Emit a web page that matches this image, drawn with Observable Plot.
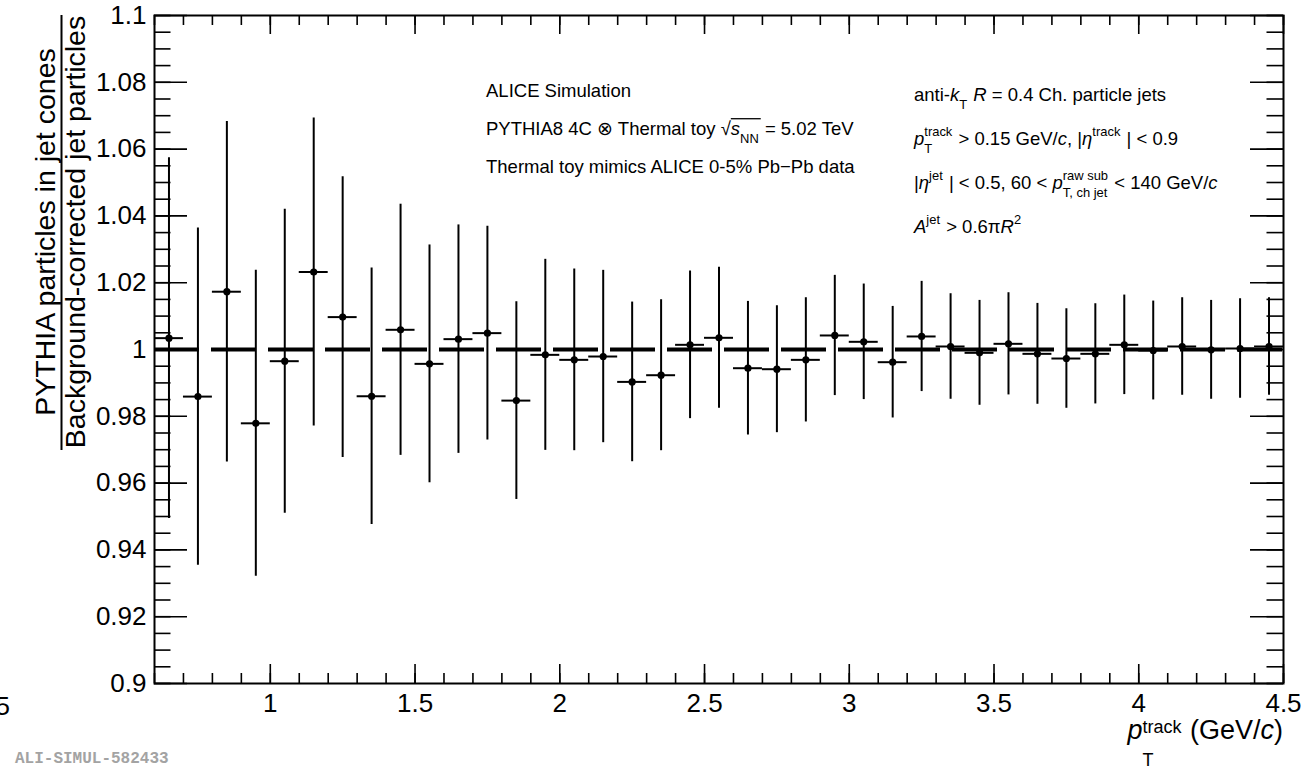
<!DOCTYPE html>
<html><head><meta charset="utf-8">
<script src="https://cdn.jsdelivr.net/npm/d3@7"></script>
<script src="https://cdn.jsdelivr.net/npm/@observablehq/plot@0.6"></script>
<style>body{margin:0;background:#fff;} svg text{white-space:pre;}</style>
</head><body>
<script>
// ---- data ----
const ptCenters = [0.65,0.75,0.85,0.95,1.05,1.15,1.25,1.35,1.45,1.55,1.65,1.75,1.85,1.95,2.05,2.15,2.25,2.35,2.45,2.55,2.65,2.75,2.85,2.95,3.05,3.15,3.25,3.35,3.45,3.55,3.65,3.75,3.85,3.95,4.05,4.15,4.25,4.35,4.45];
const ratio = [1.0034,0.9859,1.0173,0.9779,0.9965,1.0232,1.0097,0.9860,1.0059,0.9957,1.0031,1.0049,0.9847,0.9984,0.9969,0.9979,0.9903,0.9923,1.0014,1.0035,0.9944,0.9941,0.9969,1.0042,1.0023,0.9962,1.0039,1.0009,0.9990,1.0017,0.9987,0.9973,0.9987,1.0014,0.9997,1.0009,0.9999,1.0003,1.0009];
const ratioErr = [0.054,0.0505,0.051,0.0458,0.0455,0.0461,0.042,0.0384,0.0376,0.0356,0.0342,0.032,0.0296,0.0286,0.0272,0.0258,0.0239,0.0226,0.0221,0.0211,0.020,0.019,0.0186,0.018,0.0173,0.0167,0.0165,0.0158,0.0157,0.0153,0.0151,0.0149,0.015,0.0149,0.0148,0.0146,0.0148,0.0149,0.0146];
const binHalfWidth = 0.05;
const xTickLabels = [1,1.5,2,2.5,3,3.5,4,4.5];
const yTickLabels = [0.9,0.92,0.94,0.96,0.98,1,1.02,1.04,1.06,1.08,1.1];
const xMinorTicks = d3.range(6, 46).map(k => k / 10);
const yMinorTicks = d3.range(180, 221).map(k => k / 200);
const referenceLevel = [1];

const data = ptCenters.map((x, i) => ({x, r: ratio[i], e: ratioErr[i]}));

const W = 1304, H = 769, ML = 154, MR = 21, MT = 15, MB = 86;
const IW = W - ML - MR, IH = H - MT - MB;
const FONT = "'Liberation Sans', Arial, Helvetica, sans-serif";

const plotEl = Plot.plot({
  width: W, height: H,
  marginLeft: ML, marginRight: MR, marginTop: MT, marginBottom: MB,
  x: {domain: [0.6, 4.5], label: null},
  y: {domain: [0.9, 1.1], label: null},
  style: {fontFamily: FONT, background: "white", color: "black", overflow: "visible"},
  marks: [
    Plot.ruleY(referenceLevel, {y: d => d, stroke: "black", strokeWidth: 4, strokeDasharray: "45,12"}),
    Plot.ruleX(data, {x: "x", y1: d => d.r - d.e, y2: d => d.r + d.e, stroke: "black", strokeWidth: 2}),
    Plot.ruleY(data, {y: "r", x1: d => d.x - binHalfWidth, x2: d => d.x + binHalfWidth, stroke: "black", strokeWidth: 2}),
    Plot.dot(data, {x: "x", y: "r", r: 3.6, fill: "black", stroke: null}),
    // ticks (inward)
    Plot.tickX(xMinorTicks, {x: d => d, insetTop: IH - 10, stroke: "black", strokeWidth: 1.6}),
    Plot.tickX(xMinorTicks, {x: d => d, insetBottom: IH - 10, stroke: "black", strokeWidth: 1.6}),
    Plot.tickX(xTickLabels, {x: d => d, insetTop: IH - 19, stroke: "black", strokeWidth: 1.6}),
    Plot.tickX(xTickLabels, {x: d => d, insetBottom: IH - 19, stroke: "black", strokeWidth: 1.6}),
    Plot.tickY(yMinorTicks, {y: d => d, insetRight: IW - 16.5, stroke: "black", strokeWidth: 1.6}),
    Plot.tickY(yMinorTicks, {y: d => d, insetLeft: IW - 16.5, stroke: "black", strokeWidth: 1.6}),
    Plot.tickY(yTickLabels, {y: d => d, insetRight: IW - 33, stroke: "black", strokeWidth: 1.6}),
    Plot.tickY(yTickLabels, {y: d => d, insetLeft: IW - 33, stroke: "black", strokeWidth: 1.6}),
    Plot.axisX({ticks: xTickLabels, tickSize: 0, tickPadding: 10, fontSize: 26, tickFormat: d => String(d), label: null}),
    Plot.axisY({ticks: yTickLabels, tickSize: 0, tickPadding: 8, fontSize: 26, tickFormat: d => String(d), label: null}),
    Plot.frame({stroke: "black", strokeWidth: 2})
  ]
});
document.body.append(plotEl);

const svg = d3.select(plotEl);

function rich(x, y, segs, size, opts = {}) {
  const g = svg.append("g").attr("font-family", FONT).attr("fill", "black").attr("text-anchor", "start");
  const small = opts.small ?? size * 0.7;
  const supDy = opts.supDy ?? -size * 0.48;
  const subDy = opts.subDy ?? size * 0.42;
  let cx = 0, ovStart = 0;
  function put(t, px, py, fs, it) {
    const el = g.append("text").attr("x", px).attr("y", py).attr("font-size", fs)
      .attr("text-anchor", "start").style("white-space", "pre").text(t);
    if (it) el.attr("font-style", "italic");
    return el.node().getComputedTextLength();
  }
  for (const s of segs) {
    if (s.mark === "ovStart") { ovStart = cx; continue; }
    if (s.mark === "ovEnd") {
      g.append("line").attr("x1", ovStart).attr("x2", cx + 1)
        .attr("y1", -size * 0.88).attr("y2", -size * 0.88)
        .attr("stroke", "black").attr("stroke-width", 1.3);
      continue;
    }
    if (s.sup != null || s.sub != null) {
      let w = 0;
      if (s.sup != null) w = Math.max(w, put(s.sup, cx, supDy, small, false));
      if (s.sub != null) w = Math.max(w, put(s.sub, cx, subDy, small, false));
      cx += w + 1;
    } else {
      cx += put(s.t, cx, 0, s.size ?? size, s.it);
    }
  }
  g.attr("transform", `translate(${opts.anchor === "end" ? x - cx : x},${y})`);
  return cx;
}

// Left annotation block
const AS = 18.5;
rich(486, 97, [{t: "ALICE Simulation"}], AS);
rich(486, 135, [{t: "PYTHIA8 4C \u2297 Thermal toy "}, {t: "\u221A"}, {mark: "ovStart"}, {t: "s", it: true}, {sub: "NN"}, {mark: "ovEnd"}, {t: " = 5.02 TeV"}], AS);
rich(486, 173, [{t: "Thermal toy mimics ALICE 0-5% Pb\u2212Pb data"}], AS);

// Right annotation block
rich(914, 101, [{t: "anti-"}, {t: "k", it: true}, {sub: "T"}, {t: " "}, {t: "R", it: true}, {t: " = 0.4 Ch. particle jets"}], AS);
rich(914, 145, [{t: "p", it: true}, {sub: "T", sup: "track"}, {t: " > 0.15 GeV/"}, {t: "c", it: true}, {t: ", |"}, {t: "\u03B7", it: true}, {sup: "track"}, {t: " | < 0.9"}], AS);
rich(914, 189, [{t: "|"}, {t: "\u03B7", it: true}, {sup: "jet"}, {t: " | < 0.5, 60 < "}, {t: "p", it: true}, {sub: "T, ch jet", sup: "raw sub"}, {t: " < 140 GeV/"}, {t: "c", it: true}], AS);
rich(914, 233, [{t: "A", it: true}, {sup: "jet"}, {t: " > 0.6\u03C0"}, {t: "R", it: true}, {sup: "2"}], AS);

// X axis title
rich(1283, 739, [{t: "p", it: true}, {sub: "T", sup: "track"}, {t: " (GeV/"}, {t: "c", it: true}, {t: ")"}], 27, {anchor: "end", small: 18, supDy: -6, subDy: 27});

// Y axis title (fraction)
svg.append("text").attr("transform", "translate(55,232) rotate(-90)")
  .attr("text-anchor", "middle").attr("font-family", FONT).attr("font-size", 28.5).attr("fill", "black")
  .text("PYTHIA particles in jet cones");
svg.append("text").attr("transform", "translate(85,232) rotate(-90)")
  .attr("text-anchor", "middle").attr("font-family", FONT).attr("font-size", 28.5).attr("fill", "black")
  .text("Background-corrected jet particles");
svg.append("line").attr("x1", 61.5).attr("x2", 61.5).attr("y1", 15).attr("y2", 450)
  .attr("stroke", "black").attr("stroke-width", 2);

// stray label fragment at left edge
svg.append("text").attr("x", 10).attr("y", 715).attr("text-anchor", "end")
  .attr("font-family", FONT).attr("font-size", 26).attr("fill", "black").text("5");

// ALICE figure id
svg.append("text").attr("x", 15).attr("y", 763).attr("text-anchor", "start")
  .attr("font-family", "'Liberation Mono', 'DejaVu Sans Mono', monospace").attr("font-weight", "bold")
  .attr("font-size", 16).attr("fill", "#a3a3a3").text("ALI-SIMUL-582433");
</script>
</body></html>
